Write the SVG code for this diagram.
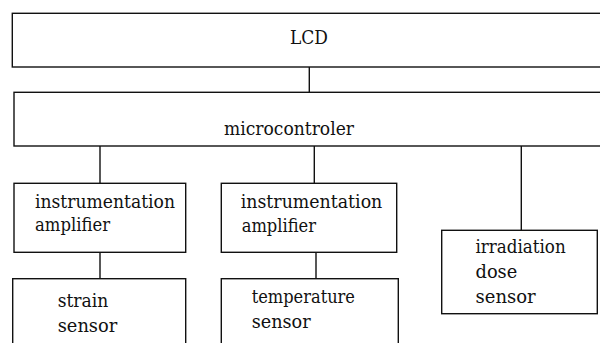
<svg xmlns="http://www.w3.org/2000/svg" width="600" height="343" viewBox="0 0 600 343">
<style>
.box{fill:#fff;stroke:#111;stroke-width:1.4}
.ln{stroke:#111;stroke-width:1.4;fill:none}
.t{font-family:'DejaVu Serif','Liberation Serif',serif;font-size:18px;fill:#111}
</style>
<rect width="600" height="343" fill="#fff"/>
<g id="connectors">
<line class="ln" x1="309.3" y1="67" x2="309.3" y2="92.3"/>
<line class="ln" x1="100" y1="146" x2="100" y2="183.3"/>
<line class="ln" x1="314.3" y1="146" x2="314.3" y2="183.3"/>
<line class="ln" x1="521.3" y1="146" x2="521.3" y2="230.3"/>
<line class="ln" x1="100" y1="252.3" x2="100" y2="278.7"/>
<line class="ln" x1="316" y1="252.3" x2="316" y2="278.7"/>
</g>
<g id="lcd">
<rect class="box" x="12.3" y="13.3" width="620" height="53.7"/>
<text class="t" x="290" y="44" textLength="38" lengthAdjust="spacingAndGlyphs">LCD</text>
</g>
<g id="microcontroler">
<rect class="box" x="14" y="92.3" width="620" height="53.7"/>
<text class="t" x="224" y="135" textLength="130" lengthAdjust="spacingAndGlyphs">microcontroler</text>
</g>
<g id="amp1">
<rect class="box" x="14" y="183.3" width="171.7" height="69"/>
<text class="t" x="35" y="208.3" textLength="140" lengthAdjust="spacingAndGlyphs">instrumentation</text>
<text class="t" x="35" y="230.5" textLength="75" lengthAdjust="spacingAndGlyphs">amplifier</text>
</g>
<g id="strain">
<rect class="box" x="12.7" y="278.7" width="173" height="90"/>
<text class="t" x="57.7" y="307.3" textLength="50.6" lengthAdjust="spacingAndGlyphs">strain</text>
<text class="t" x="57.7" y="332.3" textLength="59.6" lengthAdjust="spacingAndGlyphs">sensor</text>
</g>
<g id="amp2">
<rect class="box" x="221.3" y="183.3" width="175.4" height="69"/>
<text class="t" x="240.7" y="208.3" textLength="141.6" lengthAdjust="spacingAndGlyphs">instrumentation</text>
<text class="t" x="241.7" y="231.5" textLength="74.3" lengthAdjust="spacingAndGlyphs">amplifier</text>
</g>
<g id="temperature">
<rect class="box" x="221.3" y="278.7" width="177" height="90"/>
<text class="t" x="251.7" y="303.3" textLength="103.3" lengthAdjust="spacingAndGlyphs">temperature</text>
<text class="t" x="251.7" y="328.3" textLength="59" lengthAdjust="spacingAndGlyphs">sensor</text>
</g>
<g id="irradiation">
<rect class="box" x="441.7" y="230.3" width="155.6" height="83.4"/>
<text class="t" x="475.5" y="252.7" textLength="90.2" lengthAdjust="spacingAndGlyphs">irradiation</text>
<text class="t" x="475.5" y="277.5" textLength="41.8" lengthAdjust="spacingAndGlyphs">dose</text>
<text class="t" x="475.5" y="302.7" textLength="60.2" lengthAdjust="spacingAndGlyphs">sensor</text>
</g>
</svg>
